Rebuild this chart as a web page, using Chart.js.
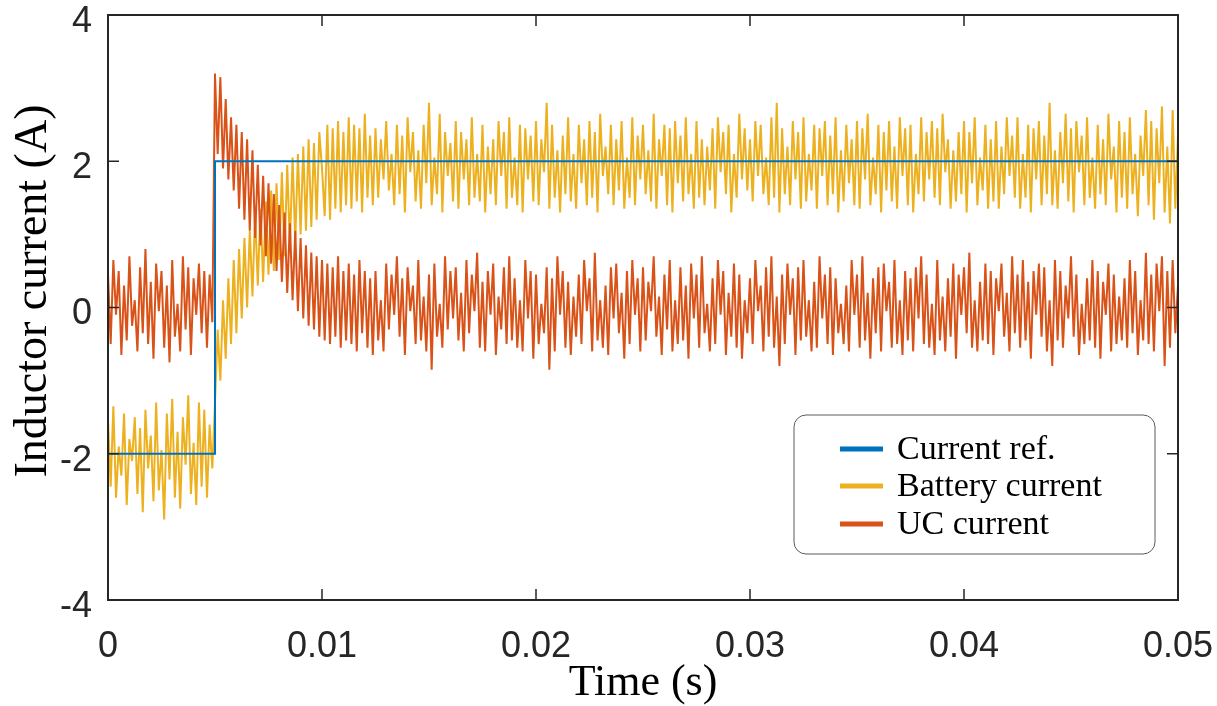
<!DOCTYPE html>
<html>
<head>
<meta charset="utf-8">
<script src="https://cdn.jsdelivr.net/npm/chart.js@4"></script>
<style>
  html, body { margin: 0; padding: 0; background: #fff; }
  #wrap { width: 1217px; height: 706px; }
</style>
</head>
<body>
<div id="wrap"><canvas id="chart" width="1217" height="706"></canvas></div>
<script>
// Sampling of the measured traces (one sample every 0.125 ms, 0 .. 0.05 s)
const sampleStep = 0.000125;

// Current reference: -2 A, stepping to 2 A at 5 ms
const refTimes = [0, 0.005, 0.005, 0.05];
const refValues = [-2, -2, 2, 2];

// Battery inductor current (A)
const batteryCurrent = [
  -1.55, -2.45, -1.35, -2.6, -1.9, -2.3, -1.45, -2.7, -1.8, -2.1,
  -1.5, -2.55, -1.65, -2.8, -1.4, -2.2, -1.75, -2.65, -1.3, -2.5,
  -1.95, -2.9, -1.45, -2.35, -1.25, -2.6, -1.7, -2.75, -1.5, -2.15,
  -1.2, -2.55, -1.85, -2.7, -1.3, -2.45, -1.4, -2.6, -1.6, -2.2,
  -1.3, -0.3, -1.0, 0.1, -0.7, 0.4, -0.5, 0.65, -0.35, 0.8,
  -0.15, 0.95, 0.0, 1.05, 0.15, 1.3, 0.3, 1.35, 0.35, 1.45,
  0.45, 1.6, 0.5, 1.7, 0.65, 1.85, 0.7, 1.95, 0.85, 2.05,
  0.9, 2.1, 1.0, 2.2, 1.05, 2.3, 1.1, 2.25, 1.2, 2.4,
  1.9, 1.25, 2.5, 1.2, 2.45, 1.35, 2.55, 1.3, 2.4, 1.4,
  2.6, 1.35, 2.5, 1.45, 2.45, 1.3, 2.65, 1.5, 2.35, 1.4,
  2.45, 1.5, 2.3, 1.75, 2.55, 1.6, 2.1, 1.4, 2.5, 1.55,
  2.35, 1.3, 2.6, 1.85, 2.4, 1.45, 2.15, 1.35, 2.5, 1.7,
  2.8, 1.4, 2.05, 1.55, 2.65, 1.3, 2.4, 1.8, 2.25, 1.45,
  2.55, 1.35, 2.4, 1.75, 2.3, 1.4, 2.6, 1.5, 2.1, 1.45,
  2.5, 1.3, 2.2, 1.55, 2.3, 1.4, 2.55, 1.8, 2.4, 1.35,
  2.6, 1.5, 2.05, 1.4, 2.5, 1.3, 2.45, 1.75, 2.35, 1.45,
  2.55, 1.4, 2.3, 1.85, 2.8, 1.35, 2.5, 1.5, 2.15, 1.3,
  2.35, 1.55, 2.6, 1.45, 2.1, 1.35, 2.5, 1.7, 2.3, 1.4,
  2.55, 1.5, 2.4, 1.3, 2.65, 1.8, 2.2, 1.55, 2.5, 1.4,
  2.3, 1.6, 2.55, 1.35, 2.05, 1.5, 2.6, 1.4, 2.35, 1.75,
  2.5, 1.55, 2.15, 1.45, 2.65, 1.35, 2.3, 1.8, 2.5, 1.4,
  2.45, 1.3, 2.55, 1.7, 2.35, 1.45, 2.6, 1.55, 2.1, 1.35,
  2.55, 1.5, 2.3, 1.4, 2.2, 1.6, 2.45, 1.35, 2.6, 1.85,
  2.4, 1.55, 2.5, 1.3, 2.1, 1.5, 2.65, 1.75, 2.45, 1.6,
  2.3, 1.45, 2.55, 1.8, 2.5, 1.55, 2.05, 1.4, 2.6, 1.5,
  2.8, 1.3, 2.45, 1.55, 2.2, 1.4, 2.55, 1.75, 2.4, 1.35,
  2.6, 1.45, 2.1, 1.6, 2.5, 1.35, 2.45, 1.8, 2.55, 1.4,
  2.35, 1.55, 2.6, 1.3, 2.15, 1.45, 2.5, 1.7, 2.3, 1.4,
  2.55, 1.35, 2.45, 1.75, 2.65, 1.4, 2.05, 1.55, 2.5, 1.3,
  2.4, 1.6, 2.55, 1.45, 2.2, 1.35, 2.6, 1.8, 2.45, 1.4,
  2.5, 1.3, 2.1, 1.55, 2.6, 1.45, 2.4, 1.75, 2.55, 1.5,
  2.45, 1.4, 2.65, 1.85, 2.3, 1.35, 2.15, 1.45, 2.4, 1.55,
  2.55, 1.3, 2.4, 1.7, 2.6, 1.4, 2.05, 1.6, 2.5, 1.35,
  2.3, 1.45, 2.55, 1.35, 2.2, 1.55, 2.6, 1.8, 2.35, 1.5,
  2.6, 1.35, 2.1, 1.5, 2.5, 1.3, 2.45, 1.75, 2.55, 1.4,
  2.35, 1.55, 2.8, 1.4, 2.15, 1.35, 2.4, 1.7, 2.65, 1.45,
  2.45, 1.3, 2.55, 1.85, 2.35, 1.4, 2.6, 1.5, 2.05, 1.35,
  2.5, 1.55, 2.3, 1.4, 2.65, 1.75, 2.2, 1.3, 2.55, 1.5,
  2.4, 1.35, 2.6, 1.55, 2.1, 1.25, 2.35, 1.8, 2.7, 1.4,
  2.55, 1.2, 2.45, 1.7, 2.75, 1.3, 2.2, 1.15, 2.7, 1.35,
  2.35
];

// Ultracapacitor inductor current (A)
const ucCurrent = [
  0.45, -0.5, 0.65, -0.1, 0.5, -0.65, 0.3, -0.45, 0.7, -0.25,
  0.1, -0.6, 0.55, -0.35, 0.8, -0.5, 0.35, -0.7, 0.6, -0.05,
  0.5, -0.55, 0.3, -0.75, 0.65, -0.4, 0.05, -0.6, 0.7, -0.3,
  0.55, -0.65, 0.4, -0.1, 0.6, -0.35, 0.5, -0.55, 0.45, -0.2,
  3.2, 2.1, 3.15, 1.9, 2.85, 1.75, 2.6, 1.6, 2.5, 1.35,
  2.4, 1.2, 2.3, 1.05, 2.15, 0.95, 1.95, 0.85, 1.8, 0.7,
  1.7, 0.6, 1.55, 0.5, 1.4, 0.35, 1.3, 0.2, 1.15, 0.1,
  1.05, -0.05, 0.95, -0.15, 0.85, -0.25, 0.75, -0.3, 0.7, -0.4,
  0.65, -0.45, 0.6, -0.5, 0.55, -0.4, 0.7, -0.55, 0.5, -0.45,
  0.6, -0.5, 0.45, -0.6, 0.65, -0.35, 0.5, -0.55, 0.4, -0.65,
  0.5, -0.45, 0.1, -0.6, 0.6, -0.3, 0.45, -0.1, 0.7, -0.4,
  0.4, -0.65, 0.55, -0.05, 0.3, -0.5, 0.65, -0.45, 0.15, -0.6,
  0.45, -0.85, 0.6, -0.4, 0.05, -0.55, 0.7, -0.3, 0.5, -0.15,
  0.55, -0.45, 0.2, -0.6, 0.65, -0.35, 0.45, -0.05, 0.75, -0.55,
  0.35, -0.6, 0.5, -0.1, 0.6, -0.65, 0.15, -0.3, 0.55, -0.5,
  0.7, -0.45, 0.4, -0.55, 0.1, -0.6, 0.65, -0.15, 0.5, -0.7,
  0.45, -0.5, 0.05, -0.35, 0.55, -0.85, 0.4, -0.6, 0.7, -0.1,
  0.5, -0.55, 0.35, -0.65, 0.15, -0.4, 0.45, -0.5, 0.65, -0.05,
  0.4, -0.6, 0.75, -0.45, 0.1, -0.55, 0.3, -0.65, 0.55, -0.15,
  0.6, -0.35, 0.2, -0.7, 0.5, -0.5, 0.65, -0.1, 0.4, -0.6,
  0.55, -0.45, 0.35, -0.05, 0.7, -0.4, 0.15, -0.65, 0.45, -0.3,
  0.65, -0.6, 0.1, -0.5, 0.55, -0.45, 0.3, -0.7, 0.6, -0.15,
  0.45, -0.55, 0.7, -0.35, 0.05, -0.6, 0.4, -0.5, 0.65, -0.1,
  0.5, -0.65, 0.2, -0.4, 0.6, -0.55, 0.45, -0.7, 0.1, -0.35,
  0.4, -0.5, 0.65, -0.05, 0.3, -0.6, 0.55, -0.4, 0.7, -0.55,
  0.15, -0.8, 0.45, -0.5, 0.6, -0.1, 0.4, -0.65, 0.55, -0.45,
  0.65, -0.4, 0.1, -0.6, 0.35, -0.55, 0.7, -0.15, 0.45, -0.5,
  0.55, -0.65, 0.4, -0.35, 0.05, -0.5, 0.3, -0.6, 0.65, -0.1,
  0.45, -0.55, 0.7, -0.45, 0.2, -0.7, 0.4, -0.35, 0.55, -0.6,
  0.6, -0.05, 0.35, -0.55, 0.65, -0.5, 0.1, -0.65, 0.5, -0.45,
  0.4, -0.6, 0.55, -0.15, 0.7, -0.5, 0.45, -0.55, 0.05, -0.65,
  0.65, -0.45, 0.15, -0.6, 0.4, -0.4, 0.6, -0.7, 0.45, -0.1,
  0.55, -0.35, 0.75, -0.55, 0.1, -0.6, 0.35, -0.45, 0.6, -0.5,
  0.5, -0.65, 0.4, -0.05, 0.6, -0.4, 0.2, -0.6, 0.7, -0.35,
  0.45, -0.55, 0.65, -0.45, 0.35, -0.7, 0.5, -0.1, 0.6, -0.4,
  0.55, -0.6, 0.1, -0.8, 0.65, -0.45, 0.5, -0.55, 0.3, -0.15,
  0.7, -0.4, 0.45, -0.65, 0.05, -0.5, 0.4, -0.45, 0.65, -0.55,
  0.5, -0.7, 0.35, -0.1, 0.6, -0.6, 0.45, -0.5, 0.15, -0.45,
  0.4, -0.55, 0.65, -0.35, 0.5, -0.65, 0.1, -0.45, 0.75, -0.5,
  0.45, -0.6, 0.6, -0.05, 0.7, -0.8, 0.5, -0.55, 0.65, -0.35,
  0.3
];

const seriesNames = ['Current ref.', 'Battery current', 'UC current'];
const seriesColors = ['#0072BD', '#EDB120', '#D95319'];

const xTicks = [0, 0.01, 0.02, 0.03, 0.04, 0.05];
const yTicks = [-4, -2, 0, 2, 4];

const AXIS_COLOR = '#262626';
const TICK_FONT = { family: '"Liberation Sans", Arial, sans-serif', size: 36 };
const SERIF = '"Liberation Serif", "Times New Roman", serif';

function toPoints(values) {
  return values.map((v, i) => ({ x: i * sampleStep, y: v }));
}

// Frame, inward tick marks, y label and the boxed legend (MATLAB look)
const matlabAxes = {
  id: 'matlabAxes',
  afterDatasetsDraw(chart) {
    const { ctx, chartArea: a, scales: { x, y } } = chart;
    ctx.save();
    ctx.strokeStyle = AXIS_COLOR;
    ctx.lineWidth = 1.5;
    ctx.beginPath();
    xTicks.forEach(v => {
      const px = x.getPixelForValue(v);
      ctx.moveTo(px, a.bottom); ctx.lineTo(px, a.bottom - 11);
      ctx.moveTo(px, a.top); ctx.lineTo(px, a.top + 11);
    });
    yTicks.forEach(v => {
      const py = y.getPixelForValue(v);
      ctx.moveTo(a.left, py); ctx.lineTo(a.left + 11, py);
      ctx.moveTo(a.right, py); ctx.lineTo(a.right - 11, py);
    });
    ctx.stroke();
    ctx.lineWidth = 2;
    ctx.strokeRect(a.left, a.top, a.right - a.left, a.bottom - a.top);

    // y axis label
    ctx.save();
    ctx.translate(34, 291);
    ctx.rotate(-Math.PI / 2);
    ctx.font = '46px ' + SERIF;
    ctx.fillStyle = '#000';
    ctx.textAlign = 'center';
    ctx.textBaseline = 'middle';
    ctx.fillText('Inductor current (A)', 0, 0);
    ctx.restore();

    // legend box
    const bx = 794, by = 415, bw = 361, bh = 139;
    ctx.beginPath();
    ctx.roundRect(bx, by, bw, bh, 12);
    ctx.fillStyle = '#fff';
    ctx.fill();
    ctx.lineWidth = 1;
    ctx.strokeStyle = '#5a5a5a';
    ctx.stroke();
    const rows = [449, 486, 524];
    ctx.font = '34px ' + SERIF;
    ctx.textBaseline = 'middle';
    ctx.textAlign = 'left';
    seriesNames.forEach((name, i) => {
      ctx.strokeStyle = seriesColors[i];
      ctx.lineWidth = 5;
      ctx.beginPath();
      ctx.moveTo(840, rows[i]);
      ctx.lineTo(883, rows[i]);
      ctx.stroke();
      ctx.fillStyle = '#000';
      ctx.fillText(name, 897, rows[i] + 1);
    });
    ctx.restore();
  }
};

new Chart(document.getElementById('chart'), {
  type: 'line',
  data: {
    datasets: [
      {
        label: seriesNames[0],
        data: refTimes.map((t, i) => ({ x: t, y: refValues[i] })),
        borderColor: seriesColors[0],
        borderWidth: 2,
        order: 0
      },
      {
        label: seriesNames[1],
        data: toPoints(batteryCurrent),
        borderColor: seriesColors[1],
        borderWidth: 2,
        order: 2
      },
      {
        label: seriesNames[2],
        data: toPoints(ucCurrent),
        borderColor: seriesColors[2],
        borderWidth: 2,
        order: 1
      }
    ]
  },
  options: {
    responsive: false,
    animation: false,
    events: [],
    layout: { padding: { top: 15, right: 39, bottom: 0, left: 0 } },
    elements: { point: { radius: 0 }, line: { tension: 0 } },
    plugins: { legend: { display: false }, tooltip: { enabled: false } },
    scales: {
      x: {
        type: 'linear',
        min: 0,
        max: 0.05,
        afterFit: s => { s.height = 106; s.paddingLeft = 0; s.paddingRight = 0; },
        afterBuildTicks: s => { s.ticks = xTicks.map(v => ({ value: v })); },
        grid: { display: false, drawTicks: false },
        border: { display: false },
        ticks: {
          font: TICK_FONT,
          color: '#262626',
          padding: 25,
          maxRotation: 0,
          callback: v => (v === 0 ? '0' : v.toFixed(2))
        },
        title: {
          display: true,
          text: 'Time (s)',
          color: '#000',
          font: { family: SERIF, size: 44, lineHeight: 1 },
          padding: { top: 0, bottom: 1 }
        }
      },
      y: {
        type: 'linear',
        min: -4,
        max: 4,
        afterFit: s => { s.width = 108; s.paddingTop = 0; s.paddingBottom = 0; },
        afterBuildTicks: s => { s.ticks = yTicks.map(v => ({ value: v })); },
        grid: { display: false, drawTicks: false },
        border: { display: false },
        ticks: {
          font: TICK_FONT,
          color: '#262626',
          padding: 16,
          labelOffset: 7
        }
      }
    }
  },
  plugins: [matlabAxes]
});
</script>
</body>
</html>
